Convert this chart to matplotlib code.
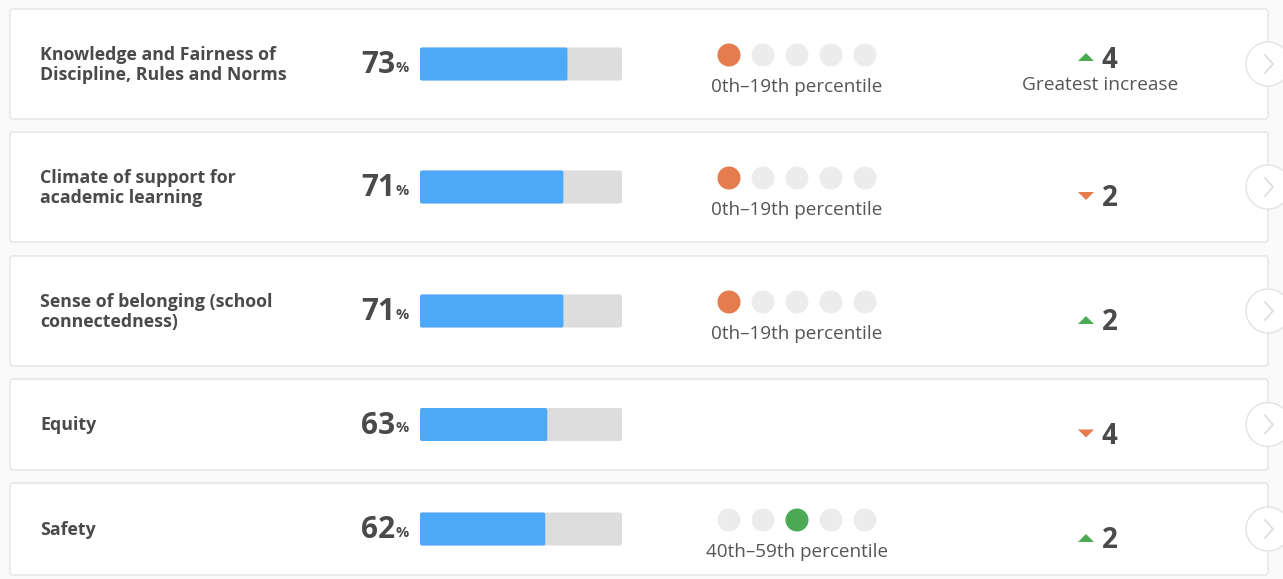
import matplotlib
matplotlib.use('Agg')
import matplotlib.pyplot as plt
from matplotlib.patches import FancyBboxPatch, Circle, Polygon

CATEGORIES = ["Knowledge and Fairness of\nDiscipline, Rules and Norms",
              "Climate of support for\nacademic learning",
              "Sense of belonging (school\nconnectedness)",
              "Equity",
              "Safety"]
PCT = [73, 71, 71, 63, 62]
PCTL_BUCKET = [0, 0, 0, None, 2]   # index of filled dot, None = no dots
PCTL_LABEL = ["0th\u201319th percentile", "0th\u201319th percentile",
              "0th\u201319th percentile", "", "40th\u201359th percentile"]
CHANGE = [4, -2, 2, -4, 2]
NOTE = ["Greatest increase", "", "", "", ""]

# card layout in pixels (top, bottom)
ROWS = [(9, 119), (132, 242), (256, 366), (379, 470), (483, 575)]

W, H = 1283, 579
plt.rcParams['font.family'] = ['Open Sans', 'DejaVu Sans']

fig = plt.figure(figsize=(W / 100, H / 100), dpi=100, facecolor='#fafafa')
ax = fig.add_axes([0, 0, 1, 1])
ax.set_xlim(0, W)
ax.set_ylim(H, 0)
ax.axis('off')

DOT_COLORS = ['#e47c4e', '#e8a24a', '#4caa55', '#4caa55', '#4caa55']
BAR_X0, BAR_W, BAR_H = 420, 202, 33
DOT_X = [729, 763, 797, 831, 865]
TXT = '#4a4a4a'

for i, (top, bot) in enumerate(ROWS):
    cy = (top + bot) / 2
    ax.add_patch(FancyBboxPatch((10, top), 1258, bot - top,
                                boxstyle='round,pad=0,rounding_size=3',
                                fc='white', ec='#e3e3e3', lw=1.0, zorder=1))
    # label
    ax.text(40, cy + 1, CATEGORIES[i], ha='left', va='center', fontsize=12.8,
            fontweight='bold', color=TXT, linespacing=1.1, zorder=3)
    # percent value
    ax.text(395, cy + 1, str(PCT[i]), ha='right', va='center', fontsize=21.5,
            fontweight='bold', color=TXT, zorder=3)
    ax.text(396, cy + 4, '%', ha='left', va='center', fontsize=10.5,
            fontweight='bold', color=TXT, zorder=3)
    # bar
    ax.add_patch(FancyBboxPatch((BAR_X0, cy - BAR_H / 2), BAR_W, BAR_H,
                                boxstyle='round,pad=0,rounding_size=2',
                                fc='#dddddd', ec='none', zorder=2))
    ax.add_patch(FancyBboxPatch((BAR_X0, cy - BAR_H / 2), BAR_W * PCT[i] / 100, BAR_H,
                                boxstyle='round,pad=0,rounding_size=2',
                                fc='#4da8f8', ec='none', zorder=3))
    # percentile dots
    b = PCTL_BUCKET[i]
    if b is not None:
        for k, dx in enumerate(DOT_X):
            c = DOT_COLORS[b] if k == b else '#ececec'
            ax.add_patch(Circle((dx, cy - 9), 11.5, fc=c, ec='none', zorder=3))
        ax.text(797, cy + 23, PCTL_LABEL[i], ha='center', va='center',
                fontsize=13.6, color='#555555', zorder=3)
    # change
    ch = CHANGE[i]
    ny = cy - 7 if NOTE[i] else cy + 9
    if ch > 0:
        tri = [(1078, ny + 4), (1094, ny + 4), (1086, ny - 4)]
        tc = '#4caa55'
    else:
        tri = [(1078, ny - 4), (1094, ny - 4), (1086, ny + 4)]
        tc = '#e47c4e'
    ax.add_patch(Polygon(tri, closed=True, fc=tc, ec='none', zorder=3))
    ax.text(1102, ny + 3, str(abs(ch)), ha='left', va='center', fontsize=20,
            fontweight='bold', color=TXT, zorder=3)
    if NOTE[i]:
        ax.text(1100, cy + 21, NOTE[i], ha='center', va='center', fontsize=13.8,
                color='#555555', zorder=3)
    # chevron button
    ax.add_patch(Circle((1268, cy), 22, fc='white', ec='#e3e3e3', lw=1.0, zorder=4))
    ax.plot([1265, 1273, 1265], [cy - 9, cy, cy + 9], color='#dcdcdc', lw=1.2, zorder=5)

fig.savefig('out.png', dpi=100, facecolor=fig.get_facecolor())
